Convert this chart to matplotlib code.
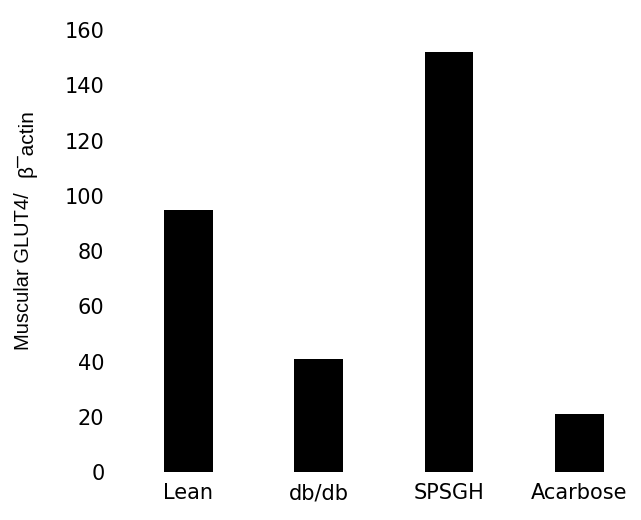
import matplotlib
matplotlib.use("Agg")
import matplotlib.pyplot as plt

groups = ["Lean", "db/db", "SPSGH", "Acarbose"]
glut4_ratio = [95, 41, 152, 21]
y_ticks = [0, 20, 40, 60, 80, 100, 120, 140, 160]

plt.rcParams['font.family'] = ['DejaVu Sans']

fig = plt.figure(figsize=(6.41, 5.2), dpi=100)
ax = fig.add_axes([0.1716, 0.0923, 0.8237, 0.85])

x = range(len(groups))
ax.bar(x, glut4_ratio, width=0.375, color='black')

ax.set_xlim(-0.6, 3.45)
ax.set_ylim(0, 160)
ax.set_yticks(y_ticks)
ax.set_xticks(list(x))
ax.set_xticklabels(groups, fontsize=15)
ax.tick_params(axis='y', length=0, pad=4, labelsize=15)
ax.tick_params(axis='x', length=0, pad=8)

for side in ['top', 'right', 'bottom', 'left']:
    ax.spines[side].set_visible(False)

# y axis title; the beta-actin part sits slightly lower
label_font = ['Liberation Sans', 'DejaVu Sans']
fig.text(0.037, 0.479, "Muscular GLUT4/", rotation=90, ha='center', va='center',
         fontsize=14.5, family=label_font)
fig.text(0.041, 0.725, "β¯actin", rotation=90, ha='center', va='center',
         fontsize=15, family=label_font)

fig.savefig("out.png", dpi=100)
